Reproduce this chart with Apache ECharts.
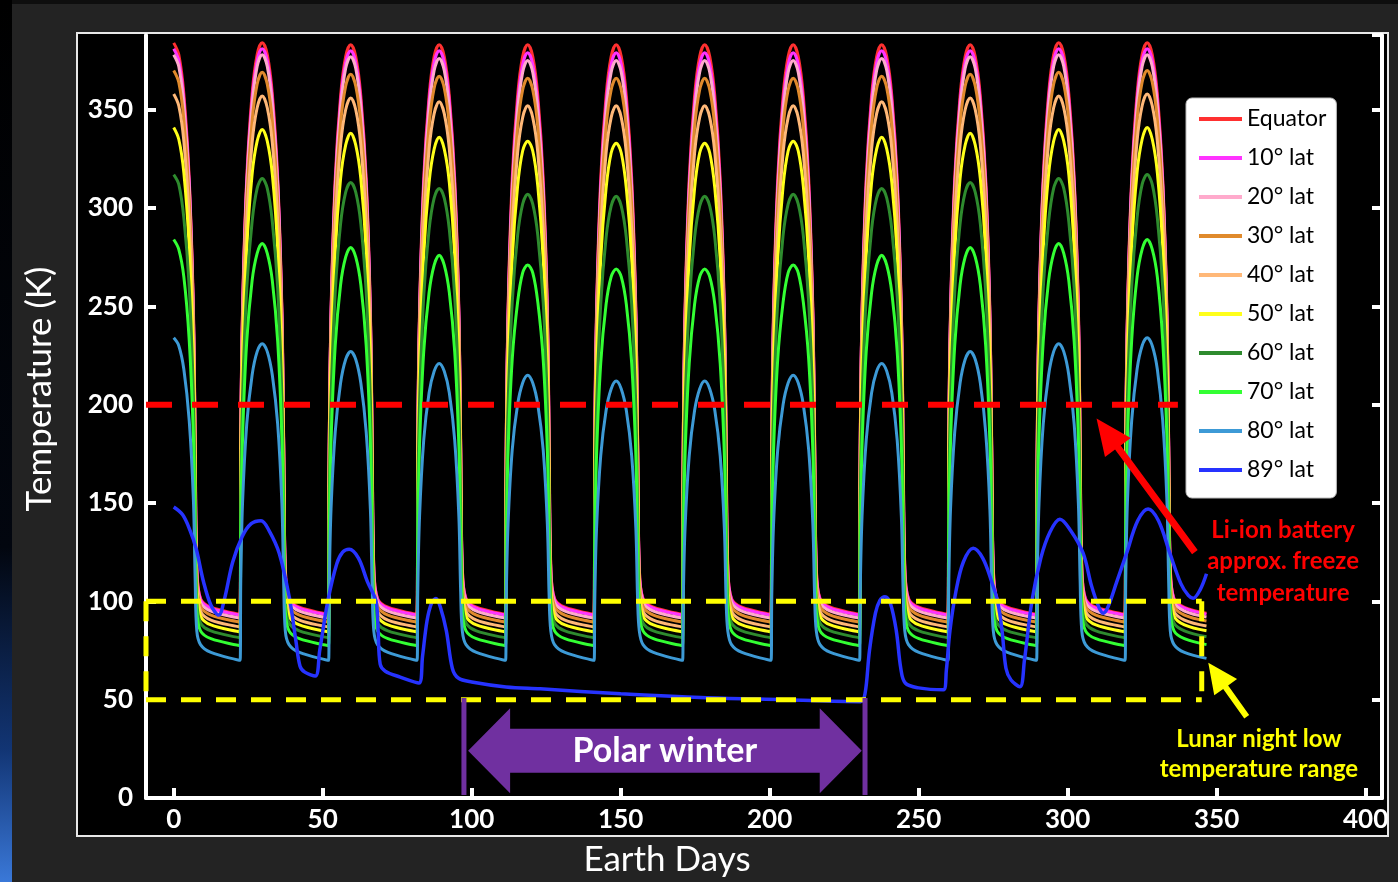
<!DOCTYPE html>
<html lang="en">
<head>
<meta charset="utf-8">
<title>Lunar surface temperature by latitude</title>
<script src="https://cdn.jsdelivr.net/npm/echarts@6/dist/echarts.min.js"></script>
<style>
html, body { margin: 0; padding: 0; background: #232323; }
#chart { width: 1398px; height: 882px; }
</style>
</head>
<body>
<div id="chart"></div>
<script>
// ---- data ----
var latNames = ['Equator', '10° lat', '20° lat', '30° lat', '40° lat', '50° lat', '60° lat', '70° lat', '80° lat', '89° lat'];
var latColors = ['#ff3030', '#ff33ff', '#ffaacc', '#e08a2c', '#ffb878', '#ffff1a', '#2e8b2e', '#33ff33', '#3d9ad6', '#2633ff'];
var xTicks = [0, 50, 100, 150, 200, 250, 300, 350, 400];

// local noon of each lunation (days) and sample offsets inside one lunation
var noonDays = [0, 29.7, 59.4, 89.1, 118.8, 148.5, 178.2, 207.9, 237.6, 267.3, 297, 326.7];
var cycleOffsets = [-7.42, -7.2, -6.6, -5.2, -3.4, -1.7, 0, 1.7, 3.4, 5.2, 6.6, 7.2, 7.75, 9, 12.5];
var endDay = 346.6;

// temperatures (K) per lunation; first row starts at noon
var tEquator = [
  [384, 378, 358, 315, 249, 182, 118, 101.5, 97],
  [93.5, 182, 249, 315, 358, 378, 384, 378, 358, 315, 249, 182, 118, 101.5, 97],
  [93.5, 182, 248, 315, 357, 377, 383, 377, 357, 315, 248, 182, 118, 101.5, 97],
  [93.5, 182, 248, 315, 357, 377, 383, 377, 357, 315, 248, 182, 118, 101.5, 97],
  [93.5, 182, 248, 315, 357, 377, 383, 377, 357, 315, 248, 182, 118, 101.5, 97],
  [93.5, 182, 248, 315, 357, 377, 383, 377, 357, 315, 248, 182, 118, 101.5, 97],
  [93.5, 182, 248, 315, 357, 377, 383, 377, 357, 315, 248, 182, 118, 101.5, 97],
  [93.5, 182, 248, 315, 357, 377, 383, 377, 357, 315, 248, 182, 118, 101.5, 97],
  [93.5, 182, 248, 315, 357, 377, 383, 377, 357, 315, 248, 182, 118, 101.5, 97],
  [93.5, 182, 248, 315, 357, 377, 383, 377, 357, 315, 248, 182, 118, 101.5, 97],
  [93.5, 182, 249, 315, 358, 378, 384, 378, 358, 315, 249, 182, 118, 101.5, 97],
  [93.5, 182, 249, 315, 358, 378, 384, 378, 358, 315, 249, 182, 118, 101.5, 97]
];
var tLat10 = [
  [381, 375, 355, 313, 247, 181, 117, 101, 96.5],
  [93, 181, 247, 313, 355, 375, 381, 375, 355, 313, 247, 181, 117, 101, 96.5],
  [93, 180, 246, 312, 354, 374, 380, 374, 354, 312, 246, 180, 117, 101, 96.5],
  [93, 180, 246, 312, 354, 374, 380, 374, 354, 312, 246, 180, 117, 101, 96.5],
  [93, 180, 246, 311, 353, 373, 379, 373, 353, 311, 246, 180, 117, 101, 96.5],
  [93, 180, 246, 311, 353, 373, 379, 373, 353, 311, 246, 180, 117, 101, 96.5],
  [93, 180, 246, 311, 353, 373, 379, 373, 353, 311, 246, 180, 117, 101, 96.5],
  [93, 180, 246, 311, 353, 373, 379, 373, 353, 311, 246, 180, 117, 101, 96.5],
  [93, 180, 246, 312, 354, 374, 380, 374, 354, 312, 246, 180, 117, 101, 96.5],
  [93, 180, 246, 312, 354, 374, 380, 374, 354, 312, 246, 180, 117, 101, 96.5],
  [93, 181, 247, 313, 355, 375, 381, 375, 355, 313, 247, 181, 117, 101, 96.5],
  [93, 181, 247, 313, 355, 375, 381, 375, 355, 313, 247, 181, 117, 101, 96.5]
];
var tLat20 = [
  [378, 372, 352, 311, 245, 179, 115, 99.5, 95],
  [91.5, 179, 245, 311, 352, 372, 378, 372, 352, 311, 245, 179, 115, 99.5, 95],
  [91.5, 179, 244, 310, 351, 371, 377, 371, 351, 310, 244, 179, 115, 99.5, 95],
  [91.5, 178, 244, 309, 350, 370, 376, 370, 350, 309, 244, 178, 115, 99.5, 95],
  [91.5, 178, 243, 308, 349, 369, 375, 369, 349, 308, 243, 178, 115, 99.5, 95],
  [91.5, 178, 243, 308, 349, 369, 375, 369, 349, 308, 243, 178, 115, 99.5, 95],
  [91.5, 178, 243, 308, 349, 369, 375, 369, 349, 308, 243, 178, 115, 99.5, 95],
  [91.5, 178, 243, 308, 349, 369, 375, 369, 349, 308, 243, 178, 115, 99.5, 95],
  [91.5, 178, 244, 309, 350, 370, 376, 370, 350, 309, 244, 178, 115, 99.5, 95],
  [91.5, 179, 244, 310, 351, 371, 377, 371, 351, 310, 244, 179, 115, 99.5, 95],
  [91.5, 179, 245, 311, 352, 372, 378, 372, 352, 311, 245, 179, 115, 99.5, 95],
  [91.5, 179, 245, 311, 352, 372, 378, 372, 352, 311, 245, 179, 115, 99.5, 95]
];
var tLat30 = [
  [370, 364, 345, 304, 240, 175, 112, 97.5, 93],
  [89.5, 175, 239, 303, 344, 363, 369, 363, 344, 303, 239, 175, 112, 97.5, 93],
  [89.5, 174, 238, 302, 343, 362, 368, 362, 343, 302, 238, 174, 112, 97.5, 93],
  [89.5, 174, 238, 301, 342, 361, 367, 361, 342, 301, 238, 174, 112, 97.5, 93],
  [89.5, 173, 237, 301, 341, 360, 366, 360, 341, 301, 237, 173, 112, 97.5, 93],
  [89.5, 173, 237, 301, 341, 360, 366, 360, 341, 301, 237, 173, 112, 97.5, 93],
  [89.5, 173, 237, 301, 341, 360, 366, 360, 341, 301, 237, 173, 112, 97.5, 93],
  [89.5, 173, 237, 301, 341, 360, 366, 360, 341, 301, 237, 173, 112, 97.5, 93],
  [89.5, 174, 238, 301, 342, 361, 367, 361, 342, 301, 238, 174, 112, 97.5, 93],
  [89.5, 174, 238, 302, 343, 362, 368, 362, 343, 302, 238, 174, 112, 97.5, 93],
  [89.5, 175, 239, 303, 344, 363, 369, 363, 344, 303, 239, 175, 112, 97.5, 93],
  [89.5, 175, 240, 304, 345, 364, 370, 364, 345, 304, 240, 175, 112, 97.5, 93]
];
var tLat40 = [
  [358, 352, 334, 294, 232, 170, 109, 95, 90.5],
  [87, 169, 231, 293, 333, 351, 357, 351, 333, 293, 231, 169, 109, 95, 90.5],
  [87, 169, 231, 292, 332, 350, 356, 350, 332, 292, 231, 169, 109, 95, 90.5],
  [87, 168, 229, 291, 330, 348, 354, 348, 330, 291, 229, 168, 109, 95, 90.5],
  [87, 167, 228, 289, 328, 346, 352, 346, 328, 289, 228, 167, 109, 95, 90.5],
  [87, 167, 228, 289, 328, 346, 352, 346, 328, 289, 228, 167, 109, 95, 90.5],
  [87, 167, 228, 289, 328, 346, 352, 346, 328, 289, 228, 167, 109, 95, 90.5],
  [87, 167, 228, 289, 328, 346, 352, 346, 328, 289, 228, 167, 109, 95, 90.5],
  [87, 168, 229, 291, 330, 348, 354, 348, 330, 291, 229, 168, 109, 95, 90.5],
  [87, 169, 231, 292, 332, 350, 356, 350, 332, 292, 231, 169, 109, 95, 90.5],
  [87, 169, 231, 293, 333, 351, 357, 351, 333, 293, 231, 169, 109, 95, 90.5],
  [87, 170, 232, 294, 334, 352, 358, 352, 334, 294, 232, 170, 109, 95, 90.5]
];
var tLat50 = [
  [341, 335, 318, 280, 221, 162, 105, 92.5, 88],
  [84.5, 161, 220, 279, 317, 334, 340, 334, 317, 279, 220, 161, 105, 92.5, 88],
  [84.5, 160, 219, 278, 315, 332, 338, 332, 315, 278, 219, 160, 105, 92.5, 88],
  [84.5, 159, 218, 276, 313, 330, 336, 330, 313, 276, 218, 159, 105, 92.5, 88],
  [84.5, 158, 216, 274, 311, 329, 334, 329, 311, 274, 216, 158, 105, 92.5, 88],
  [84.5, 158, 216, 274, 310, 328, 333, 328, 310, 274, 216, 158, 105, 92.5, 88],
  [84.5, 158, 216, 274, 310, 328, 333, 328, 310, 274, 216, 158, 105, 92.5, 88],
  [84.5, 158, 216, 274, 311, 329, 334, 329, 311, 274, 216, 158, 105, 92.5, 88],
  [84.5, 159, 218, 276, 313, 330, 336, 330, 313, 276, 218, 159, 105, 92.5, 88],
  [84.5, 160, 219, 278, 315, 332, 338, 332, 315, 278, 219, 160, 105, 92.5, 88],
  [84.5, 161, 220, 279, 317, 334, 340, 334, 317, 279, 220, 161, 105, 92.5, 88],
  [84.5, 162, 221, 280, 318, 335, 341, 335, 318, 280, 221, 162, 105, 92.5, 88]
];
var tLat60 = [
  [317, 312, 295, 260, 205, 150, 100, 89, 85],
  [81.5, 149, 204, 259, 293, 310, 315, 310, 293, 259, 204, 149, 100, 89, 85],
  [81.5, 148, 203, 257, 292, 308, 313, 308, 292, 257, 203, 148, 100, 89, 85],
  [81.5, 147, 201, 255, 289, 305, 310, 305, 289, 255, 201, 147, 100, 89, 85],
  [81.5, 146, 199, 252, 286, 302, 307, 302, 286, 252, 199, 146, 100, 89, 85],
  [81.5, 145, 198, 251, 285, 301, 306, 301, 285, 251, 198, 145, 100, 89, 85],
  [81.5, 145, 198, 251, 285, 301, 306, 301, 285, 251, 198, 145, 100, 89, 85],
  [81.5, 146, 199, 252, 286, 302, 307, 302, 286, 252, 199, 146, 100, 89, 85],
  [81.5, 147, 201, 255, 289, 305, 310, 305, 289, 255, 201, 147, 100, 89, 85],
  [81.5, 148, 203, 257, 292, 308, 313, 308, 292, 257, 203, 148, 100, 89, 85],
  [81.5, 149, 204, 259, 293, 310, 315, 310, 293, 259, 204, 149, 100, 89, 85],
  [81.5, 150, 205, 260, 295, 312, 317, 312, 295, 260, 205, 150, 100, 89, 85]
];
var tLat70 = [
  [284, 279, 265, 233, 184, 135, 95, 85, 81],
  [77.5, 134, 183, 232, 263, 277, 282, 277, 263, 232, 183, 134, 95, 85, 81],
  [77.5, 133, 181, 230, 261, 275, 280, 275, 261, 230, 181, 133, 95, 85, 81],
  [77.5, 131, 179, 227, 257, 271, 276, 271, 257, 227, 179, 131, 95, 85, 81],
  [77.5, 128, 176, 223, 252, 267, 271, 267, 252, 223, 176, 128, 95, 85, 81],
  [77.5, 128, 174, 221, 251, 265, 269, 265, 251, 221, 174, 128, 95, 85, 81],
  [77.5, 128, 174, 221, 251, 265, 269, 265, 251, 221, 174, 128, 95, 85, 81],
  [77.5, 128, 176, 223, 252, 267, 271, 267, 252, 223, 176, 128, 95, 85, 81],
  [77.5, 131, 179, 227, 257, 271, 276, 271, 257, 227, 179, 131, 95, 85, 81],
  [77.5, 133, 181, 230, 261, 275, 280, 275, 261, 230, 181, 133, 95, 85, 81],
  [77.5, 134, 183, 232, 263, 277, 282, 277, 263, 232, 183, 134, 95, 85, 81],
  [77.5, 135, 184, 233, 265, 279, 284, 279, 265, 233, 184, 135, 95, 85, 81]
];
var tLat80 = [
  [234, 230, 218, 192, 152, 111, 85, 78, 74],
  [70, 110, 150, 190, 215, 227, 231, 227, 215, 190, 150, 110, 85, 78, 74],
  [70, 108, 147, 186, 211, 223, 227, 223, 211, 186, 147, 108, 85, 78, 74],
  [70, 105, 143, 182, 206, 217, 221, 217, 206, 182, 143, 105, 85, 78, 74],
  [70, 102, 139, 177, 200, 211, 215, 211, 200, 177, 139, 102, 85, 78, 74],
  [70, 100, 137, 174, 197, 208, 212, 208, 197, 174, 137, 100, 85, 78, 74],
  [70, 100, 137, 174, 197, 208, 212, 208, 197, 174, 137, 100, 85, 78, 74],
  [70, 102, 139, 177, 200, 211, 215, 211, 200, 177, 139, 102, 85, 78, 74],
  [70, 105, 143, 182, 206, 217, 221, 217, 206, 182, 143, 105, 85, 78, 74],
  [70, 108, 147, 186, 211, 223, 227, 223, 211, 186, 147, 108, 85, 78, 74],
  [70, 110, 150, 190, 215, 227, 231, 227, 215, 190, 150, 110, 85, 78, 74],
  [70, 111, 152, 192, 218, 230, 234, 230, 218, 192, 152, 111, 85, 78, 74]
];
// value at endDay for the first nine series
var tLast = [94, 93.5, 92, 90, 87.5, 85, 82, 78, 71];

// 89° lat has its own shape (polar winter)
var polarDays = [0, 3, 5.5, 7.5, 10, 12.5, 15.1, 17, 19.8, 23, 26, 29.3, 32, 35.4, 38.8, 41, 42.4, 44, 47.5,
  49, 51.7, 54.7, 56.7, 58.9, 62, 65, 67.9, 68.6, 69.3, 71, 76, 82.3, 83.5, 85, 86.5, 88, 89.5, 91.5, 93.5,
  95.5, 100, 111.5, 123, 150, 179, 205, 230.5, 232, 233.5, 235.5, 237, 238.7, 240.5, 242.5, 244, 245.5,
  250, 258.3, 259.3, 260.5, 262.5, 265, 268.3, 271.5, 274.5, 276.5, 278, 279.3, 281, 284, 285.5, 288,
  291, 294, 297.4, 301, 305.2, 308, 310.5, 311.9, 313.5, 316.5, 319.8, 323.5, 327, 330.5, 334.3, 338,
  340.5, 342.1, 344.5, 346.6];
var polarTemps = [148, 144, 136, 127, 110, 98, 93, 101, 120, 133, 139.5, 141, 136, 124.5, 102, 80, 67, 64, 62,
  75, 100, 119, 125, 126.5, 122, 110, 100, 85, 68, 64.5, 61.5, 58.5, 72, 90, 99, 101.5, 97, 85, 66,
  61, 59, 56.5, 55.5, 53, 51, 50, 49, 53, 75, 94, 100.5, 102.4, 99, 85, 66, 58.5,
  56, 55, 65, 85, 105, 120, 127, 122, 110, 100, 85, 66, 60, 56.6, 70, 100,
  122, 135, 141.7, 136, 124.5, 108, 97, 94, 97, 110, 124.5, 141, 147, 141, 124.5, 109,
  103, 101.6, 106, 114];

// annotations (data coordinates)
var freezeLevel = [[-9.3, 200], [337, 200]];
var nightBoxX = [-9.3, 345];
var nightBoxY = [50, 100];
var winterBars = [[97.4, 1.5, 50.8], [232, 1.5, 50.8]];
var winterArrow = [[98.8, 24, 230.9, 24]];
var redArrow = [[342.7, 125, 309.7, 193]];
var yellowArrow = [[360.1, 41.3, 347.2, 68.8]];
var freezeNote = ['Li-ion battery', 'approx. freeze', 'temperature'];
var freezeNoteAt = [[372.3, 136.3], [372.3, 120.2], [372.3, 104.1]];
var nightNote = ['Lunar night low', 'temperature range'];
var nightNoteAt = [[364.2, 29.9], [364.2, 14.6]];
var winterNote = ['Polar winter'];
var winterNoteAt = [[164.8, 24]];

var FONT = 'Lato, "Noto Sans", sans-serif';

function buildLat(rows, last) {
  var pts = [];
  rows.forEach(function (row, c) {
    var offs = c === 0 ? cycleOffsets.slice(6) : cycleOffsets;
    row.forEach(function (t, k) {
      pts.push([Math.round((noonDays[c] + offs[k]) * 100) / 100, t]);
    });
  });
  pts.push([endDay, last]);
  return pts;
}

var latRows = [tEquator, tLat10, tLat20, tLat30, tLat40, tLat50, tLat60, tLat70, tLat80];
var series = [];
latRows.forEach(function (rows, i) {
  series.push({
    name: latNames[i], type: 'line', data: buildLat(rows, tLast[i]),
    color: latColors[i], symbol: 'none', smooth: 0.35, silent: true,
    lineStyle: { width: 3, color: latColors[i] }
  });
});
series.push({
  name: latNames[9], type: 'line',
  data: polarDays.map(function (d, i) { return [d, polarTemps[i]]; }),
  color: latColors[9], symbol: 'none', smooth: 0.35, silent: true,
  lineStyle: { width: 3.5, color: latColors[9] }
});

function segment(data, color, width, dash) {
  return {
    type: 'line', data: data, symbol: 'none', silent: true, z: 5,
    lineStyle: { color: color, width: width, type: dash || 'solid' }
  };
}
series.push(segment(freezeLevel, '#ff0000', 6, [26, 20]));
series.push(segment([[nightBoxX[0], nightBoxY[1]], [nightBoxX[1], nightBoxY[1]]], '#ffff00', 5, [20, 15]));
series.push(segment([[nightBoxX[0], nightBoxY[0]], [nightBoxX[1], nightBoxY[0]]], '#ffff00', 5, [20, 15]));
series.push(segment([[nightBoxX[0], nightBoxY[1]], [nightBoxX[0], nightBoxY[0]]], '#ffff00', 5, [20, 15]));
series.push(segment([[nightBoxX[1], nightBoxY[1]], [nightBoxX[1], nightBoxY[0]]], '#ffff00', 5, [20, 15]));
winterBars.forEach(function (b) {
  series.push(segment([[b[0], b[1]], [b[0], b[2]]], '#7030a0', 5));
});

function arrowSeries(data, color, shaft, headLen, headHalf) {
  return {
    type: 'custom', data: data, z: 6, silent: true, clip: false,
    renderItem: function (params, api) {
      var a = api.coord([api.value(0), api.value(1)]);
      var b = api.coord([api.value(2), api.value(3)]);
      var dx = b[0] - a[0], dy = b[1] - a[1];
      var len = Math.sqrt(dx * dx + dy * dy);
      var ux = dx / len, uy = dy / len, px = -uy, py = ux;
      var bx = b[0] - ux * headLen, by = b[1] - uy * headLen;
      return {
        type: 'polygon',
        shape: { points: [
          [a[0] + px * shaft, a[1] + py * shaft], [bx + px * shaft, by + py * shaft],
          [bx + px * headHalf, by + py * headHalf], b,
          [bx - px * headHalf, by - py * headHalf], [bx - px * shaft, by - py * shaft],
          [a[0] - px * shaft, a[1] - py * shaft]
        ] },
        style: { fill: color }
      };
    }
  };
}
series.push(arrowSeries(redArrow, '#ff0000', 3.5, 36, 16));
series.push(arrowSeries(yellowArrow, '#ffff00', 3, 30, 14));

// double-headed purple arrow
series.push({
  type: 'custom', data: winterArrow, z: 6, silent: true, clip: false,
  renderItem: function (params, api) {
    var l = api.coord([api.value(0), api.value(1)]);
    var r = api.coord([api.value(2), api.value(3)]);
    var y = l[1], head = 42, hh = 42.5, sh = 22;
    return {
      type: 'polygon',
      shape: { points: [
        l, [l[0] + head, y - hh], [l[0] + head, y - sh], [r[0] - head, y - sh], [r[0] - head, y - hh],
        r, [r[0] - head, y + hh], [r[0] - head, y + sh], [l[0] + head, y + sh], [l[0] + head, y + hh]
      ] },
      style: { fill: '#7030a0' }
    };
  }
});

function noteSeries(lines, at, color, size) {
  return {
    type: 'custom', data: at, z: 7, silent: true, clip: false,
    renderItem: function (params, api) {
      var p = api.coord([api.value(0), api.value(1)]);
      return {
        type: 'text', x: p[0], y: p[1],
        style: { text: lines[params.dataIndex], fill: color, font: 'bold ' + size + 'px ' + FONT,
          align: 'center', verticalAlign: 'middle' }
      };
    }
  };
}
series.push(noteSeries(freezeNote, freezeNoteAt, '#ff0000', 24));
series.push(noteSeries(nightNote, nightNoteAt, '#ffff00', 24));
series.push(noteSeries(winterNote, winterNoteAt, '#ffffff', 34));

var axisWhite = { color: '#ffffff', width: 4 };

var chart = echarts.init(document.getElementById('chart'));
chart.setOption({
  animation: false,
  backgroundColor: '#232323',
  graphic: [
    { type: 'rect', z: -2, shape: { x: 0, y: 0, width: 12, height: 882 },
      style: { fill: new echarts.graphic.LinearGradient(0, 0, 0, 1, [
        { offset: 0, color: '#000000' }, { offset: 0.62, color: '#02060f' },
        { offset: 0.85, color: '#123574' }, { offset: 1, color: '#3a78d8' }]) } },
    { type: 'rect', z: -2, shape: { x: 12, y: 0, width: 1386, height: 4 }, style: { fill: '#0e0e0e' } },
    { type: 'rect', z: -1, shape: { x: 77, y: 33, width: 1311, height: 803 },
      style: { fill: '#000000', stroke: '#e8e8e8', lineWidth: 2 } },
    { type: 'text', z: 10, x: 40, y: 389, rotation: Math.PI / 2,
      style: { text: 'Temperature (K)', fill: '#ffffff', font: '35px ' + FONT, align: 'center', verticalAlign: 'middle' } },
    { type: 'text', z: 10, x: 667, y: 860,
      style: { text: 'Earth Days', fill: '#ffffff', font: '35px ' + FONT, align: 'center', verticalAlign: 'middle' } }
  ],
  grid: { left: 146, right: 16, top: 35, bottom: 84, containLabel: false },
  legend: {
    data: latNames, orient: 'vertical', left: 1186, top: 98,
    backgroundColor: '#ffffff', borderColor: '#bbbbbb', borderWidth: 1, borderRadius: 6,
    padding: [9, 10, 16, 13], itemGap: 15, itemWidth: 43, itemHeight: 4, icon: 'rect',
    selectedMode: false,
    textStyle: { color: '#000000', fontSize: 23, fontFamily: FONT, lineHeight: 24 }
  },
  xAxis: {
    type: 'value', min: -9.3, max: 405.5,
    axisLine: { onZero: false, lineStyle: axisWhite },
    axisTick: { inside: true, length: 10, lineStyle: axisWhite, customValues: xTicks },
    axisLabel: { customValues: xTicks, color: '#ffffff', fontFamily: FONT, fontWeight: 'bold', fontSize: 26, margin: 9 },
    splitLine: { show: false }
  },
  yAxis: [{
    type: 'value', min: 0, max: 388, interval: 50,
    axisLine: { show: true, onZero: false, lineStyle: axisWhite },
    axisTick: { show: true, inside: true, length: 10, lineStyle: axisWhite },
    axisLabel: { color: '#ffffff', fontFamily: FONT, fontWeight: 'bold', fontSize: 26, margin: 13, showMaxLabel: false },
    splitLine: { show: false }
  }, {
    type: 'value', position: 'right', min: 0, max: 388, interval: 50,
    axisLine: { show: true, onZero: false, lineStyle: axisWhite },
    axisTick: { show: true, inside: true, length: 10, lineStyle: axisWhite },
    axisLabel: { show: false },
    splitLine: { show: false }
  }],
  series: series
});
</script>
</body>
</html>
